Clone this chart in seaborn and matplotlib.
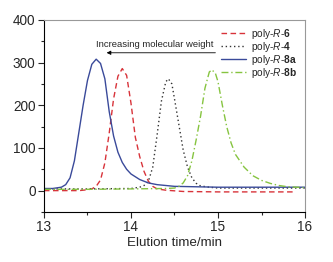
import numpy as np
import pandas as pd
import matplotlib
matplotlib.use('Agg')
import matplotlib.pyplot as plt
from matplotlib.ticker import MultipleLocator
import seaborn as sns

# GPC traces
x_8a = [13.00, 13.10, 13.20, 13.25, 13.30, 13.35, 13.40, 13.45, 13.50, 13.55, 13.60, 13.65,
        13.70, 13.75, 13.80, 13.85, 13.90, 13.95, 14.00, 14.10, 14.20, 14.30, 14.50, 15.00,
        15.50, 16.00]
y_8a = [5, 5, 8, 14, 30, 70, 135, 200, 258, 296, 308, 298,
        262, 185, 128, 90, 66, 50, 39, 26, 18, 14, 10, 8,
        8, 8]

x_6 = [13.00, 13.40, 13.50, 13.55, 13.60, 13.65, 13.70, 13.75, 13.80, 13.85, 13.90, 13.95,
       14.00, 14.05, 14.10, 14.15, 14.20, 14.25, 14.30, 14.40, 14.60, 15.00, 15.50, 15.88]
y_6 = [0, 0, 2, 4, 10, 25, 65, 135, 215, 268, 286, 270,
       205, 125, 80, 45, 22, 10, 4, 1, -2, -3, -3, -3]

x_4 = [13.00, 13.50, 14.00, 14.10, 14.15, 14.20, 14.25, 14.30, 14.35, 14.40, 14.43, 14.47,
       14.50, 14.55, 14.60, 14.65, 14.70, 14.75, 14.80, 14.90, 15.00, 15.50, 16.00]
y_4 = [4, 4, 5, 8, 12, 22, 55, 130, 210, 255, 262, 250,
       215, 155, 95, 55, 30, 17, 11, 8, 6, 6, 6]

x_8b = [13.00, 13.50, 14.00, 14.40, 14.50, 14.55, 14.60, 14.65, 14.70, 14.75, 14.80, 14.85,
        14.90, 14.93, 14.97, 15.00, 15.05, 15.10, 15.15, 15.20, 15.30, 15.40, 15.50, 15.60,
        15.70, 15.80, 16.00]
y_8b = [3, 3, 4, 5, 6, 10, 18, 35, 70, 120, 175, 240,
        278, 283, 275, 255, 200, 150, 112, 85, 55, 35, 24, 17,
        12, 9, 7]

labels = ['poly-$\\mathit{R}$-$\\mathbf{6}$', 'poly-$\\mathit{R}$-$\\mathbf{4}$',
          'poly-$\\mathit{R}$-$\\mathbf{8a}$', 'poly-$\\mathit{R}$-$\\mathbf{8b}$']

sns.set_theme(style='ticks')
plt.rcParams['font.family'] = ['Liberation Sans', 'DejaVu Sans']
plt.rcParams['mathtext.fontset'] = 'custom'
plt.rcParams['mathtext.rm'] = 'Liberation Sans'
plt.rcParams['mathtext.it'] = 'Liberation Sans:italic'
plt.rcParams['mathtext.bf'] = 'Liberation Sans:bold'

fig = plt.figure(figsize=(3.33, 2.62), dpi=100)
ax = fig.add_axes([0.132, 0.191, 0.784, 0.733])

series = [
    (x_6, y_6, labels[0], '#d8333a', (0, (4, 2.5))),
    (x_4, y_4, labels[1], '#333333', (0, (1, 2))),
    (x_8a, y_8a, labels[2], '#3a4a9a', '-'),
    (x_8b, y_8b, labels[3], '#86c440', (0, (5, 2, 1, 2))),
]
for xs, ys, lab, col, ls in series:
    df = pd.DataFrame({'t': xs, 'v': ys})
    sns.lineplot(data=df, x='t', y='v', ax=ax, color=col, linestyle=ls,
                 linewidth=1.0, label=lab)

ax.set_xlim(13, 16)
ax.set_ylim(-50, 400)
ax.xaxis.set_major_locator(MultipleLocator(1))
ax.xaxis.set_minor_locator(MultipleLocator(0.5))
ax.yaxis.set_major_locator(MultipleLocator(100))
ax.yaxis.set_minor_locator(MultipleLocator(50))
ax.tick_params(which='major', direction='out', length=4, width=0.8, labelsize=9.8, pad=2)
ax.tick_params(which='minor', direction='out', length=2, width=0.8)
ax.set_xlabel('Elution time/min', fontsize=9.6, labelpad=2)
ax.set_ylabel('')
for s in ['top', 'right']:
    ax.spines[s].set_color('#999999')
for s in ['left', 'bottom']:
    ax.spines[s].set_color('black')
for s in ax.spines.values():
    s.set_linewidth(0.8)

ax.annotate('', xy=(13.72, 323), xytext=(14.97, 323),
            arrowprops=dict(arrowstyle='-|>', color='black', lw=0.6,
                            mutation_scale=6, shrinkA=0, shrinkB=0))
ax.text(14.27, 343, 'Increasing molecular weight', fontsize=6.8,
        ha='center', va='center')

leg = ax.legend(loc='upper right', frameon=False, fontsize=7.3, handlelength=2.5,
                handletextpad=0.4, labelspacing=-0.1, borderaxespad=0.3,
                bbox_to_anchor=(0.995, 1.0))

fig.savefig('out.png', dpi=100)
